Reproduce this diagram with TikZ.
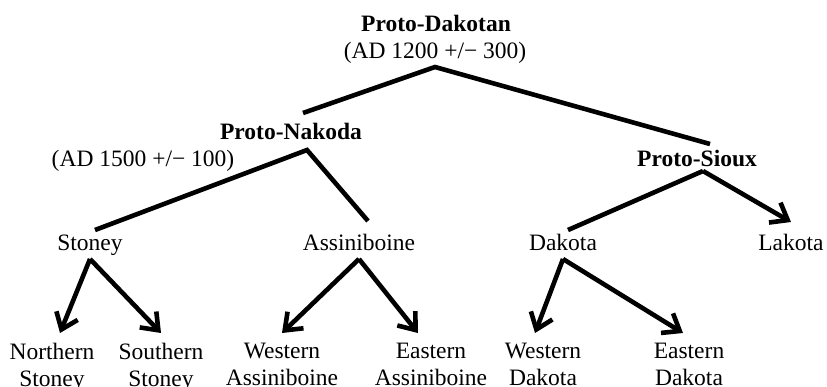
\documentclass[tikz,border=0pt]{standalone}
\usepackage{fontspec}
\setmainfont{Liberation Serif}
\usetikzlibrary{arrows.meta}

\tikzset{
  lang/.style={font=\fontsize{23.5}{27}\selectfont, anchor=base, inner sep=0pt,
    outer sep=4pt, text height=16pt, text depth=5pt},
  proto/.style={lang, font=\fontsize{23.5}{27}\selectfont\bfseries, outer sep=6pt},
  leaf/.style={font=\fontsize{23.5}{27}\selectfont, align=center, anchor=north,
    inner sep=0pt, outer sep=0pt, outer ysep=10pt},
  branch/.style={line width=4.6pt},
  split/.style={branch, -{Straight Barb[length=15pt,width=23pt]}}
}

\begin{document}
\begin{tikzpicture}[x=1pt, y=-1pt]
  \useasboundingbox (0,0) rectangle (827,386);

  % Proto-languages
  \node[proto] (dakotan) at (436,31) {Proto-Dakotan};
  \node[lang] (dakotanDate) at (435,58) {(AD 1200 +/− 300)};
  \node[proto] (nakoda) at (291,139) {Proto-Nakoda};
  \node[lang] (nakodaDate) at (143,166) {(AD 1500 +/− 100)};
  \node[proto] (sioux) at (697,166) {Proto-Sioux};

  % Languages
  \node[lang] (stoney) at (90,250) {Stoney};
  \node[lang] (assiniboine) at (359,250) {Assiniboine};
  \node[lang] (dakota) at (563,250) {Dakota};
  \node[lang] (lakota) at (791,250) {Lakota};

  % Dialects
  \node[leaf] (nStoney) at (52,333) {Northern\\Stoney};
  \node[leaf] (sStoney) at (161,333) {Southern\\Stoney};
  \node[leaf] (wAssiniboine) at (282,333) {Western\\Assiniboine};
  \node[leaf] (eAssiniboine) at (431,333) {Eastern\\Assiniboine};
  \node[leaf] (wDakota) at (543,333) {Western\\Dakota};
  \node[leaf] (eDakota) at (689,333) {Eastern\\Dakota};

  % Branches
  \draw[branch] ([xshift=12pt,yshift=4pt]nakoda.north) -- (dakotanDate.south)
    -- ([xshift=13pt]sioux.north);
  \draw[branch] ([xshift=5pt]stoney.north) -- ([xshift=16pt]nakoda.south)
    -- ([xshift=9pt,yshift=9pt]assiniboine.north);
  \draw[branch] ([xshift=5pt]dakota.north) -- ([xshift=6pt,yshift=6pt]sioux.south);
  \draw[split] ([xshift=6pt,yshift=6pt]sioux.south) -- ([yshift=8pt]lakota.north);

  \foreach \from/\to/\dx in {stoney/nStoney/8, stoney/sStoney/0,
      assiniboine/wAssiniboine/0, assiniboine/eAssiniboine/-13,
      dakota/wDakota/-8, dakota/eDakota/-6}{
    \draw[split] (\from.south) -- ([xshift=\dx pt]\to.north);
  }
\end{tikzpicture}
\end{document}
